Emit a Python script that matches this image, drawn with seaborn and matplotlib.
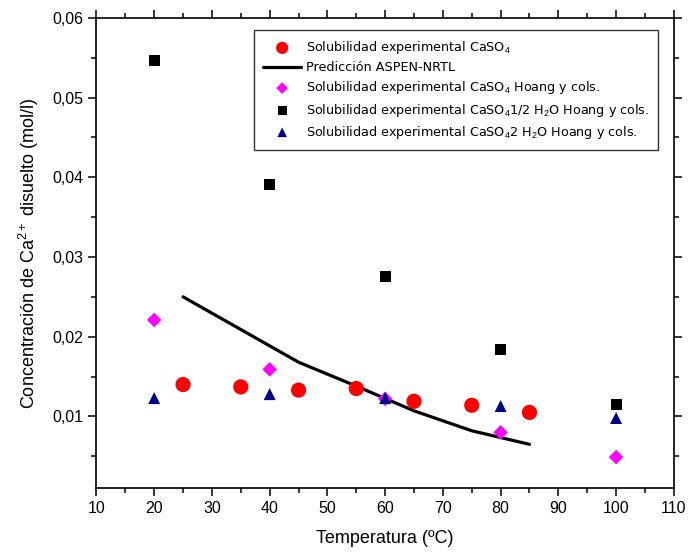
import matplotlib
matplotlib.use("Agg")
import matplotlib.pyplot as plt
import seaborn as sns
import pandas as pd
from matplotlib.ticker import MultipleLocator, FuncFormatter

# Data
t_exp = [25, 35, 45, 55, 65, 75, 85]
c_exp = [0.0140, 0.0137, 0.0133, 0.0135, 0.0119, 0.0114, 0.0105]

t_pred = [25, 35, 45, 55, 65, 75, 85]
c_pred = [0.0250, 0.0209, 0.0168, 0.0138, 0.0107, 0.0082, 0.0065]

t_hoang = [20, 40, 60, 80, 100]
c_anh = [0.0221, 0.0159, 0.0122, 0.0080, 0.0049]
c_hemi = [0.0546, 0.0391, 0.0276, 0.0184, 0.0115]
c_dihyd = [0.0123, 0.0128, 0.0123, 0.0113, 0.0098]

labels = [r"Solubilidad experimental CaSO$_4$",
          "Predicción ASPEN-NRTL",
          r"Solubilidad experimental CaSO$_4$ Hoang y cols.",
          r"Solubilidad experimental CaSO$_4$1/2 H$_2$O Hoang y cols.",
          r"Solubilidad experimental CaSO$_4$2 H$_2$O Hoang y cols."]

sns.set_style("ticks")
plt.rcParams['font.family'] = ['Liberation Sans', 'DejaVu Sans']
plt.rcParams['mathtext.fontset'] = 'custom'
plt.rcParams['mathtext.rm'] = 'Liberation Sans'
plt.rcParams['mathtext.it'] = 'Liberation Sans'
plt.rcParams['text.color'] = 'black'
plt.rcParams['axes.labelcolor'] = 'black'
plt.rcParams['xtick.color'] = 'black'
plt.rcParams['ytick.color'] = 'black'

fig = plt.figure(figsize=(6.89, 5.56), dpi=100)
ax = fig.add_axes([0.140, 0.122, 0.838, 0.846])

df_exp = pd.DataFrame({"T": t_exp, "C": c_exp})
df_pred = pd.DataFrame({"T": t_pred, "C": c_pred})
df_h = pd.DataFrame({"T": t_hoang, "anh": c_anh, "hemi": c_hemi, "dih": c_dihyd})

sns.scatterplot(data=df_exp, x="T", y="C", ax=ax, marker="o", s=120,
                color="#ff0000", edgecolor="none", label=labels[0], zorder=3)
sns.lineplot(data=df_pred, x="T", y="C", ax=ax, color="black", linewidth=2.3,
             label=labels[1], zorder=2)
sns.scatterplot(data=df_h, x="T", y="anh", ax=ax, marker="D", s=55,
                color="#ff00ff", edgecolor="none", label=labels[2], zorder=3)
sns.scatterplot(data=df_h, x="T", y="hemi", ax=ax, marker="s", s=65,
                color="black", edgecolor="none", label=labels[3], zorder=3)
sns.scatterplot(data=df_h, x="T", y="dih", ax=ax, marker="^", s=75,
                color="#00008b", edgecolor="none", label=labels[4], zorder=3)

ax.set_xlim(10, 110)
ax.set_ylim(0.001, 0.06)
ax.xaxis.set_major_locator(MultipleLocator(10))
ax.xaxis.set_minor_locator(MultipleLocator(5))
ax.yaxis.set_major_locator(MultipleLocator(0.01))
ax.yaxis.set_minor_locator(MultipleLocator(0.005))
ax.yaxis.set_major_formatter(FuncFormatter(lambda v, p: ("%.2f" % v).replace(".", ",")))
ax.xaxis.set_major_formatter(FuncFormatter(lambda v, p: "%d" % v))

for s in ax.spines.values():
    s.set_visible(True)
    s.set_linewidth(1.2)
    s.set_color("black")
ax.tick_params(which="both", direction="out", top=True, right=True,
               labeltop=False, labelright=False, width=1.1, color="black")
ax.tick_params(which="major", length=6, labelsize=11.5)
ax.tick_params(which="minor", length=3.5)

ax.set_xlabel("Temperatura (ºC)", fontsize=13, labelpad=10)
ax.set_ylabel(r"Concentración de Ca$^{2+}$ disuelto (mol/l)", fontsize=13, labelpad=8)

leg = ax.legend(loc="upper left", bbox_to_anchor=(0.2725, 0.974), borderaxespad=0,
                fancybox=False, frameon=True, handlelength=3.0,
                handletextpad=0.35, labelspacing=0.40, borderpad=0.72,
                prop={'family': ['DejaVu Sans'], 'size': 9.2}, markerscale=0.8)
leg.get_frame().set_edgecolor("black")
leg.get_frame().set_linewidth(1.0)

fig.savefig("out.png", dpi=100)
